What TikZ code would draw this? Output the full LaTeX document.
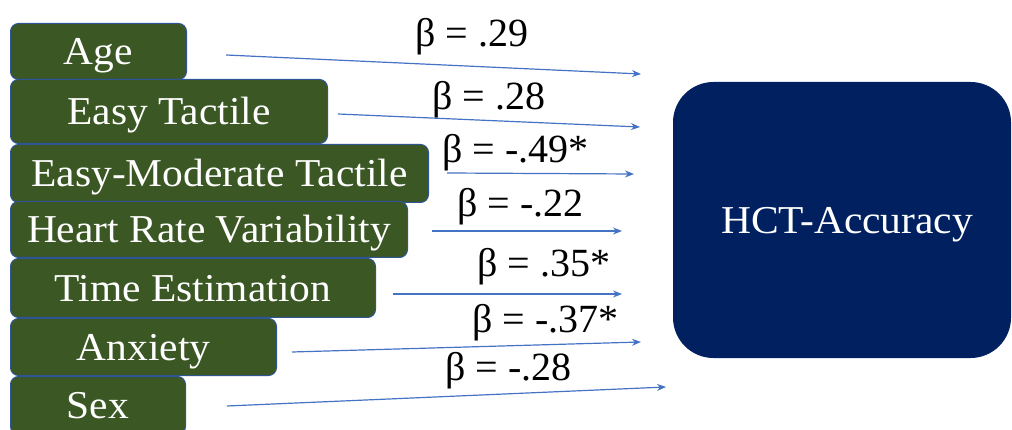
\documentclass[tikz,border=0pt]{standalone}
\usepackage{fontspec}
\setmainfont{Liberation Serif}
\newfontfamily\boxfont[FakeStretch=1.05]{Liberation Serif}
\usetikzlibrary{arrows.meta}
\definecolor{boxgreen}{HTML}{3A5724}
\definecolor{boxedge}{HTML}{2F5597}
\definecolor{navyblue}{HTML}{002060}
\definecolor{arrowblue}{HTML}{4472C4}
\begin{document}
\begin{tikzpicture}[x=1pt,y=-1pt,
  varbox/.style={draw=boxedge, line width=1pt, fill=boxgreen, rounded corners=8pt,
    anchor=north west, inner sep=0pt, text=white,
    font=\boxfont\fontsize{39.5}{40}\selectfont, text height=26.5pt, text depth=0pt},
  outbox/.style={draw=navyblue, line width=1pt, fill=navyblue, rounded corners=40pt,
    anchor=north west, inner sep=0pt, text=white,
    font=\boxfont\fontsize{39.5}{40}\selectfont, text height=26.5pt, text depth=0pt},
  lbl/.style={anchor=base west, inner sep=0pt, text=black, font=\fontsize{40}{40}\selectfont},
  conn/.style={draw=arrowblue, line width=1.2pt, -{Stealth[length=9pt,width=7pt]}}
]
\useasboundingbox (0,0) rectangle (1012,430);
\clip (0,0) rectangle (1012,430);

% predictor boxes
\node[varbox, minimum width=176pt, minimum height=56pt] (age) at (10,23) {Age};
\node[varbox, minimum width=317pt, minimum height=64pt] (easy) at (10,79) {Easy Tactile};
\node[varbox, minimum width=418pt, minimum height=58pt] (emt) at (10,144) {Easy-Moderate Tactile};
\node[varbox, minimum width=397pt, minimum height=56pt] (hrv) at (10,201) {Heart Rate Variability};
\node[varbox, minimum width=365pt, minimum height=59pt] (te) at (10,258) {Time Estimation};
\node[varbox, minimum width=266pt, minimum height=57pt] (anx) at (10,318) {Anxiety};
\node[varbox, minimum width=175pt, minimum height=58pt] (sex) at (10,376) {Sex};

% outcome box
\node[outbox, minimum width=337pt, minimum height=275pt] (hct) at (673,82) {\hspace*{10pt}HCT-Accuracy};

% connector end points
\coordinate (s1) at (226,55);  \coordinate (e1) at (641,74);
\coordinate (s2) at (338,114); \coordinate (e2) at (640,127);
\coordinate (s3) at (447,173); \coordinate (e3) at (634,174);
\coordinate (s4) at (432,231); \coordinate (e4) at (622,231);
\coordinate (s5) at (393,294); \coordinate (e5) at (622,294);
\coordinate (s6) at (292,352); \coordinate (e6) at (641,342);
\coordinate (s7) at (227,406); \coordinate (e7) at (666,387);

\draw[conn] (s1) -- (e1);
\draw[conn] (s2) -- (e2);
\draw[conn] (s3) -- (e3);
\draw[conn] (s4) -- (e4);
\draw[conn] (s5) -- (e5);
\draw[conn] (s6) -- (e6);
\draw[conn] (s7) -- (e7);

% coefficient labels
\node[lbl] (b1) at (415,47)  {β = .29};
\node[lbl] (b2) at (432,110) {β = .28};
\node[lbl] (b3) at (442,163) {β = -.49*};
\node[lbl] (b4) at (457,217) {β = -.22};
\node[lbl] (b5) at (477,277) {β = .35*};
\node[lbl] (b6) at (472,333) {β = -.37*};
\node[lbl] (b7) at (445,380) {β = -.28};
\end{tikzpicture}
\end{document}
